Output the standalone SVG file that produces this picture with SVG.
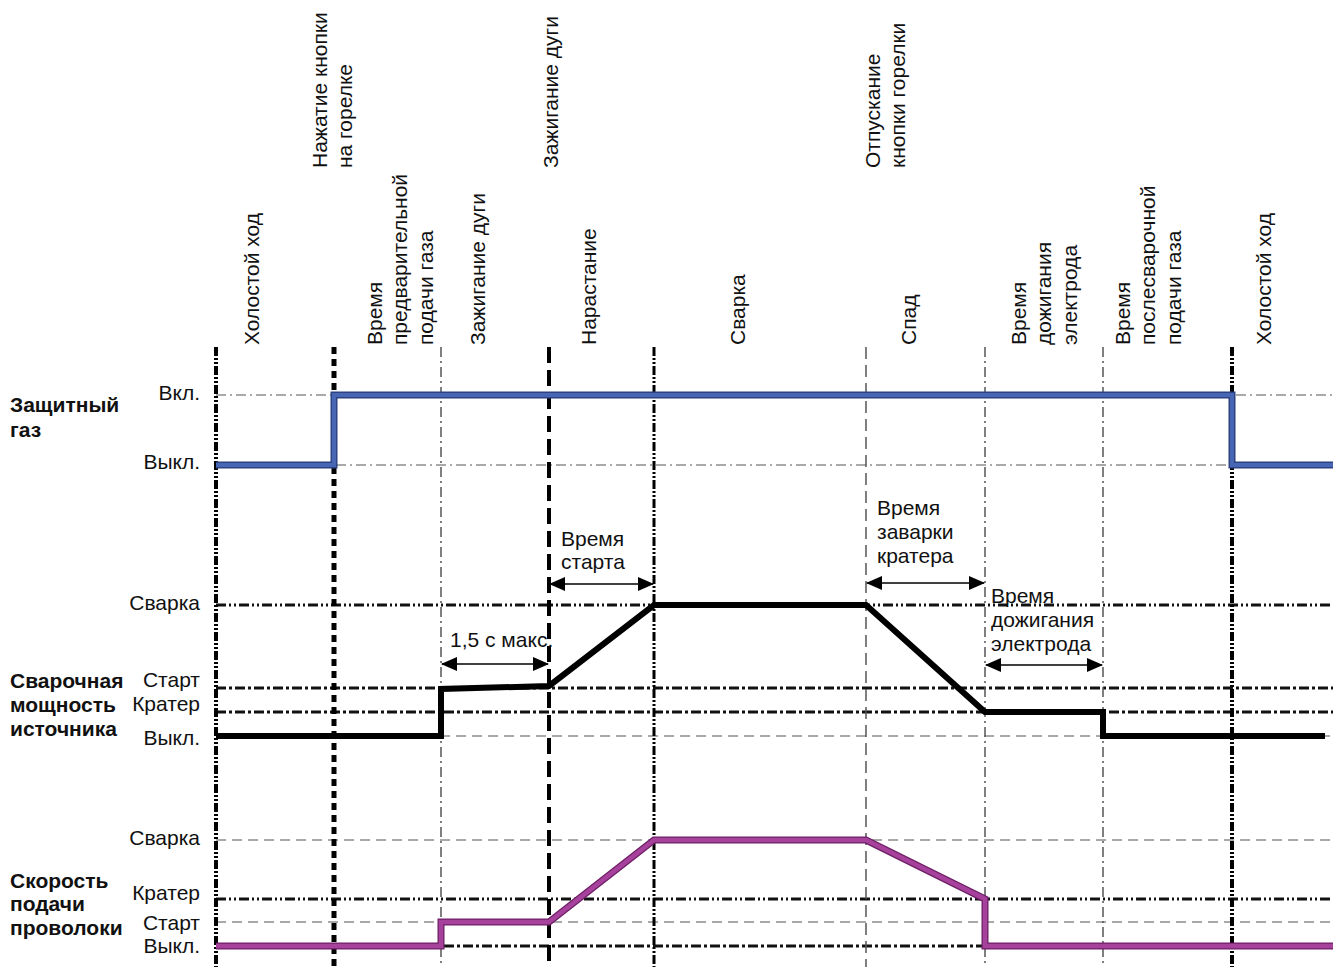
<svg xmlns="http://www.w3.org/2000/svg" width="1333" height="967" viewBox="0 0 1333 967">
<defs>
<style>
text{font-family:"Liberation Sans",Arial,sans-serif;font-size:21px;fill:#111}
.b{font-weight:bold}
.r{text-anchor:end}
.g{fill:none}
.vt{stroke:#000;stroke-width:4;stroke-dasharray:9 2 2 2 2 2}
.vd{stroke:#000;stroke-width:5;stroke-dasharray:7 5}
.vl{stroke:#000;stroke-width:4;stroke-dasharray:16 7}
.vm{stroke:#000;stroke-width:3;stroke-dasharray:9 2 2 2 2 2}
.vs{stroke:#555;stroke-width:1.5;stroke-dasharray:10 4 2 4}
.vn{stroke:#555;stroke-width:1.5;stroke-dasharray:12 6}
.ht{stroke:#555;stroke-width:1.2;stroke-dasharray:10 4 2 4}
.hn{stroke:#555;stroke-width:1.2;stroke-dasharray:10 6}
.hk{stroke:#111;stroke-width:3;stroke-dasharray:10 3 2 3 2 3}
.hk2{stroke:#111;stroke-width:3;stroke-dasharray:10 3 3 3}
.sig{fill:none;stroke-linejoin:miter}
.arr{stroke:#000;stroke-width:1.5;marker-start:url(#ah);marker-end:url(#ah)}
</style>
<marker id="ah" viewBox="0 0 16 14" refX="15" refY="7" markerWidth="16" markerHeight="14" markerUnits="userSpaceOnUse" orient="auto-start-reverse">
<path d="M0,0 L16,7 L0,14 Z" fill="#000"/>
</marker>
</defs>
<rect width="1333" height="967" fill="#fff"/>

<g id="grid" class="g">
<line class="ht" x1="216" y1="395" x2="1333" y2="395"/>
<line class="ht" x1="216" y1="465" x2="1333" y2="465"/>
<line class="hk" x1="216" y1="605" x2="1333" y2="605"/>
<line class="hk2" x1="216" y1="688" x2="1333" y2="688"/>
<line class="hk2" x1="216" y1="712" x2="1333" y2="712"/>
<line class="hn" x1="216" y1="736" x2="1333" y2="736"/>
<line class="hn" x1="216" y1="840" x2="1333" y2="840"/>
<line class="hk" x1="216" y1="899" x2="1333" y2="899"/>
<line class="hn" x1="216" y1="922" x2="1333" y2="922"/>
<line class="hk2" x1="216" y1="946" x2="1333" y2="946"/>
<line class="vt" x1="216" y1="347" x2="216" y2="967"/>
<line class="vd" x1="334" y1="347" x2="334" y2="967"/>
<line class="vs" x1="441" y1="347" x2="441" y2="967"/>
<line class="vl" x1="549" y1="347" x2="549" y2="967"/>
<line class="vm" x1="654" y1="347" x2="654" y2="967"/>
<line class="vn" x1="866" y1="347" x2="866" y2="967"/>
<line class="vs" x1="985" y1="347" x2="985" y2="967"/>
<line class="vs" x1="1103" y1="347" x2="1103" y2="967"/>
<line class="vt" x1="1232" y1="347" x2="1232" y2="967"/>
</g>

<g id="gas-signal" class="sig">
<polyline points="216,465 334,465 334,395 1232,395 1232,465 1333,465" stroke="#2c4283" stroke-width="7"/>
<polyline points="216,465 334,465 334,395 1232,395 1232,465 1333,465" stroke="#4766b3" stroke-width="4"/>
</g>
<g id="power-signal" class="sig">
<polyline points="216,736 441,736 441,689 549,686 654,605 866,605 985,712 1103,712 1103,736 1325,736" stroke="#000" stroke-width="6"/>
</g>
<g id="wire-signal" class="sig">
<polyline points="216,946 441,946 441,922 549,922 654,840 866,840 985,899 985,946 1333,946" stroke="#6e1f66" stroke-width="7"/>
<polyline points="216,946 441,946 441,922 549,922 654,840 866,840 985,899 985,946 1333,946" stroke="#a7429c" stroke-width="4.5"/>
</g>

<g id="phase-labels">
<text transform="translate(259,345) rotate(-90)">Холостой ход</text>
<text transform="translate(327,168) rotate(-90)">Нажатие кнопки</text>
<text transform="translate(352,168) rotate(-90)">на горелке</text>
<text transform="translate(382,345) rotate(-90)">Время</text>
<text transform="translate(407,345) rotate(-90)">предварительной</text>
<text transform="translate(433,345) rotate(-90)">подачи газа</text>
<text transform="translate(485,345) rotate(-90)">Зажигание дуги</text>
<text transform="translate(558,168) rotate(-90)">Зажигание дуги</text>
<text transform="translate(596,345) rotate(-90)">Нарастание</text>
<text transform="translate(745,345) rotate(-90)">Сварка</text>
<text transform="translate(880,168) rotate(-90)">Отпускание</text>
<text transform="translate(905,168) rotate(-90)">кнопки горелки</text>
<text transform="translate(916,345) rotate(-90)">Спад</text>
<text transform="translate(1026,345) rotate(-90)">Время</text>
<text transform="translate(1051,345) rotate(-90)">дожигания</text>
<text transform="translate(1077,345) rotate(-90)">электрода</text>
<text transform="translate(1130,345) rotate(-90)">Время</text>
<text transform="translate(1155,345) rotate(-90)">послесварочной</text>
<text transform="translate(1181,345) rotate(-90)">подачи газа</text>
<text transform="translate(1271,345) rotate(-90)">Холостой ход</text>
</g>

<g id="gas-labels">
<text class="b" x="10" y="412">Защитный</text>
<text class="b" x="10" y="437">газ</text>
<text class="r" x="200" y="400">Вкл.</text>
<text class="r" x="200" y="469">Выкл.</text>
</g>
<g id="power-labels">
<text class="b" x="10" y="688">Сварочная</text>
<text class="b" x="10" y="712">мощность</text>
<text class="b" x="10" y="736">источника</text>
<text class="r" x="200" y="610">Сварка</text>
<text class="r" x="200" y="687">Старт</text>
<text class="r" x="200" y="711">Кратер</text>
<text class="r" x="200" y="745">Выкл.</text>
</g>
<g id="wire-labels">
<text class="b" x="10" y="888">Скорость</text>
<text class="b" x="10" y="911">подачи</text>
<text class="b" x="10" y="935">проволоки</text>
<text class="r" x="200" y="845">Сварка</text>
<text class="r" x="200" y="900">Кратер</text>
<text class="r" x="200" y="930">Старт</text>
<text class="r" x="200" y="953">Выкл.</text>
</g>

<g id="connectors">
<line class="arr" x1="442" y1="664" x2="548" y2="664"/>
<line class="arr" x1="550" y1="584" x2="653" y2="584"/>
<line class="arr" x1="867" y1="583" x2="984" y2="583"/>
<line class="arr" x1="986" y1="665" x2="1102" y2="665"/>
</g>

<g id="start-time">
<text x="561" y="546">Время</text>
<text x="561" y="569">старта</text>
</g>
<g id="max-time">
<text x="450" y="647">1,5 с макс.</text>
</g>
<g id="crater-time">
<text x="877" y="515">Время</text>
<text x="877" y="539">заварки</text>
<text x="877" y="563">кратера</text>
</g>
<g id="burnback-time">
<text x="991" y="603">Время</text>
<text x="991" y="627">дожигания</text>
<text x="991" y="651">электрода</text>
</g>
</svg>
